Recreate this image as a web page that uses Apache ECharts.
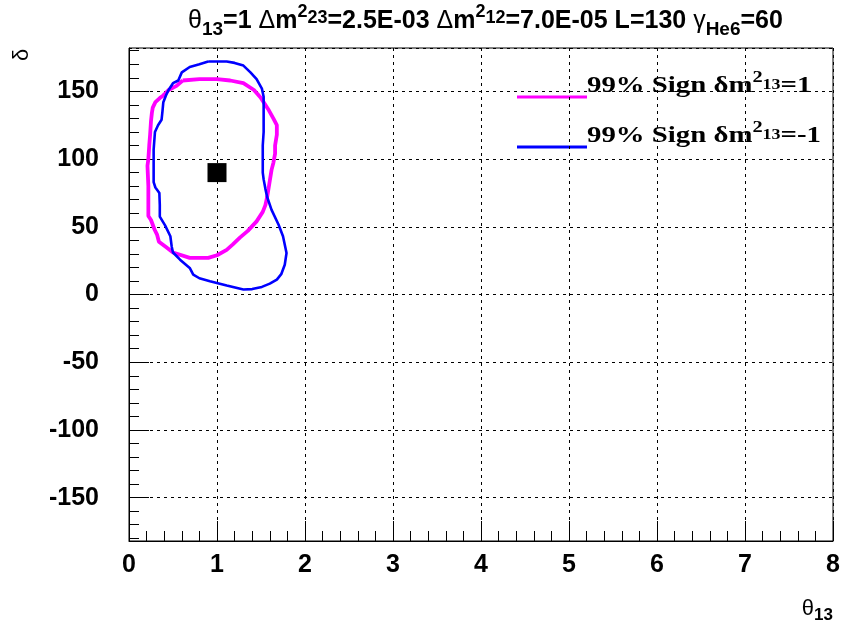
<!DOCTYPE html>
<html><head><meta charset="utf-8">
<script src="https://cdn.jsdelivr.net/npm/echarts@6/dist/echarts.min.js"></script>
<style>html,body{margin:0;padding:0;background:#fff}#c{width:843px;height:629px}</style>
</head><body><div id="c"></div>
<script>
// ---- data ----
const magentaTheta = [0.61,0.80,1.00,1.15,1.30,1.42,1.50,1.58,1.64,1.68,1.68,1.66,1.66,1.64,1.62,1.60,1.57,1.55,1.52,1.45,1.35,1.26,1.18,1.11,1.00,0.90,0.75,0.69,0.50,0.42,0.34,0.32,0.29,0.25,0.22,0.22,0.22,0.21,0.22,0.23,0.24,0.25,0.26,0.27,0.30,0.35,0.39,0.45,0.54,0.61];
const magentaDelta = [158,159,159,158,156,151,145,137,130,125,118,110,104,97,92,84,72,66,61,54,47,42,37,33,29,27,27,27,31,35,39,44,48,55,58,70,80,95,100,110,118,128,134,138,142,145,147,151,154,158];
const blueTheta = [0.90,1.00,1.11,1.20,1.30,1.38,1.45,1.51,1.53,1.53,1.53,1.53,1.52,1.52,1.52,1.53,1.55,1.57,1.62,1.70,1.75,1.79,1.77,1.73,1.68,1.60,1.51,1.40,1.30,1.11,0.92,0.80,0.73,0.69,0.58,0.50,0.485,0.47,0.41,0.35,0.35,0.345,0.30,0.28,0.28,0.28,0.295,0.33,0.37,0.38,0.39,0.42,0.45,0.50,0.56,0.60,0.69,0.80,0.90];
const blueDelta = [172,172,172,171,169,164,159,152,146,141,130,120,110,100,90,85,78,72,62.5,51.5,43,30.6,22,15,11,8,5.6,4,3.7,6.6,9.8,12,14.7,19.6,25.7,31,35.5,43,51,57.5,66,75,79,83,95,107,120,125,129,135,142,147,151,156,158,164,168,170,172];
const pointTheta = [1.0];
const pointDelta = [90];
const seriesNames = ['99% Sign \u03b4m2 13=1', '99% Sign \u03b4m2 13=-1'];
const signValues = ['1', '-1'];
const xMin = 0, xMax = 8, yMin = -182, yMax = 182;

// ---- layout ----
const W = 843, H = 629;
const G = {left: 129, right: 10, top: 48, bottom: 88};
const plotH = H - G.top - G.bottom;
const g2top = G.top + (yMax - 180) / (yMax - yMin) * plotH;
const g2h = 360 / (yMax - yMin) * plotH;
const pairs = (a, b) => a.map((v, i) => [v, b[i]]);
const SANS = 'Liberation Sans, Arial, Helvetica, sans-serif';
const SERIF = 'Liberation Serif, Times New Roman, serif';
const colors = ['#ff00ff', '#0000ff'];
const widths = [3.8, 2.6];

const chart = echarts.init(document.getElementById('c'), null, {renderer: 'canvas'});

const titleRich = {
  m: {fontFamily: SANS, fontWeight: 'bold', fontSize: 25, lineHeight: 36, color: '#000'},
  g: {fontFamily: SANS, fontWeight: 'normal', fontSize: 25, lineHeight: 36, color: '#000'},
  sb: {fontFamily: SANS, fontWeight: 'bold', fontSize: 19, lineHeight: 18, padding: [18, 0, 0, 0], color: '#000'},
  sp: {fontFamily: SANS, fontWeight: 'bold', fontSize: 18, lineHeight: 18, padding: [0, 0, 18, 0], color: '#000'},
  md: {fontFamily: SANS, fontWeight: 'bold', fontSize: 18, lineHeight: 30, padding: [0, 0, 6, 0], color: '#000'}
};
const legRich = {
  m: {fontFamily: SERIF, fontWeight: 'bold', fontSize: 24, lineHeight: 30, color: '#000'},
  sp: {fontFamily: SERIF, fontWeight: 'bold', fontSize: 17, lineHeight: 14, padding: [0, 0, 16, 0], color: '#000'},
  md: {fontFamily: SERIF, fontWeight: 'bold', fontSize: 15, lineHeight: 28, padding: [0, 0, 2, 0], color: '#000'}
};

const legendGraphics = [];
signValues.forEach((s, i) => {
  const yLine = 97 + i * 50;
  legendGraphics.push({
    type: 'line', silent: true,
    shape: {x1: 517, y1: yLine, x2: 587, y2: yLine},
    style: {stroke: colors[i], lineWidth: 3}
  });
  legendGraphics.push({
    type: 'text', x: 587, y: yLine - 26, scaleX: 1.2, originX: 0, originY: 0,
    style: {
      text: '{m|99% Sign \u03b4m}{sp|2}{md|13}{m|=' + s + '}',
      rich: legRich, verticalAlign: 'top', align: 'left'
    }
  });
});

const option = {
  animation: false,
  backgroundColor: '#fff',
  grid: [
    {left: G.left, right: G.right, top: G.top, bottom: G.bottom, show: true, borderColor: '#000', borderWidth: 1, backgroundColor: 'transparent'},
    {left: G.left, right: G.right, top: g2top, height: g2h, show: false}
  ],
  xAxis: [
    {
      type: 'value', gridIndex: 0, min: xMin, max: xMax, interval: 1,
      axisLine: {show: true, onZero: false, lineStyle: {color: '#000', width: 1}},
      axisTick: {show: true, inside: true, length: 20, lineStyle: {color: '#000'}},
      minorTick: {show: true, splitNumber: 5, length: 10, lineStyle: {color: '#000'}},
      axisLabel: {color: '#000', fontFamily: SANS, fontWeight: 'bold', fontSize: 25, margin: 12},
      splitLine: {show: true, lineStyle: {color: '#000', width: 1, type: [3, 4]}}
    },
    {type: 'value', gridIndex: 1, min: xMin, max: xMax, show: false}
  ],
  yAxis: [
    {
      type: 'value', gridIndex: 0, min: yMin, max: yMax, splitNumber: 7,
      axisLine: {show: true, onZero: false, lineStyle: {color: '#000', width: 1}},
      axisTick: {show: true, inside: true, length: 20, lineStyle: {color: '#000'}},
      axisLabel: {color: '#000', fontFamily: SANS, fontWeight: 'bold', fontSize: 25, margin: 30,
        showMinLabel: false, showMaxLabel: false,
        formatter: v => (Math.abs(v % 50) < 1e-9 ? String(v) : '')},
      splitLine: {show: true, lineStyle: {color: '#000', width: 1, type: [3, 4]}}
    },
    {
      type: 'value', gridIndex: 1, min: -180, max: 180, interval: 10,
      axisLine: {show: false, onZero: false},
      axisTick: {show: true, inside: true, length: 10, lineStyle: {color: '#000'}},
      axisLabel: {show: false}, splitLine: {show: false}
    }
  ],
  series: [
    {name: seriesNames[0], type: 'line', xAxisIndex: 0, yAxisIndex: 0, data: pairs(magentaTheta, magentaDelta),
      showSymbol: false, symbol: 'none', smooth: false, lineStyle: {color: colors[0], width: widths[0]}, z: 3},
    {name: seriesNames[1], type: 'line', xAxisIndex: 0, yAxisIndex: 0, data: pairs(blueTheta, blueDelta),
      showSymbol: false, symbol: 'none', smooth: false, lineStyle: {color: colors[1], width: widths[1]}, z: 4},
    {name: 'best fit', type: 'scatter', xAxisIndex: 0, yAxisIndex: 0, data: pairs(pointTheta, pointDelta),
      symbol: 'rect', symbolSize: 19, itemStyle: {color: '#000', opacity: 1}, z: 5}
  ],
  graphic: [
    {type: 'text', x: 188, y: 3, style: {
      text: '{g|\u03b8}{sb|13}{m|=1 }{g|\u0394}{m|m}{sp|2}{md|23}{m|=2.5E-03 }{g|\u0394}{m|m}{sp|2}{md|12}{m|=7.0E-05 L=130 }{g|\u03b3}{sb|He6}{m|=60}',
      rich: titleRich, verticalAlign: 'top', align: 'left'}},
    {type: 'text', x: 22, y: 55, rotation: Math.PI / 2, style: {
      text: '\u03b4', fontFamily: SANS, fontSize: 22, fill: '#000', align: 'center', verticalAlign: 'middle'}},
    {type: 'text', x: 833, y: 596, style: {
      text: '{g|\u03b8}{sb|13}', align: 'right', verticalAlign: 'top',
      rich: {
        g: {fontFamily: SANS, fontSize: 22, lineHeight: 26, color: '#000'},
        sb: {fontFamily: SANS, fontWeight: 'bold', fontSize: 17, lineHeight: 14, padding: [12, 0, 0, 0], color: '#000'}
      }}}
  ].concat(legendGraphics)
};
chart.setOption(option);
</script></body></html>
